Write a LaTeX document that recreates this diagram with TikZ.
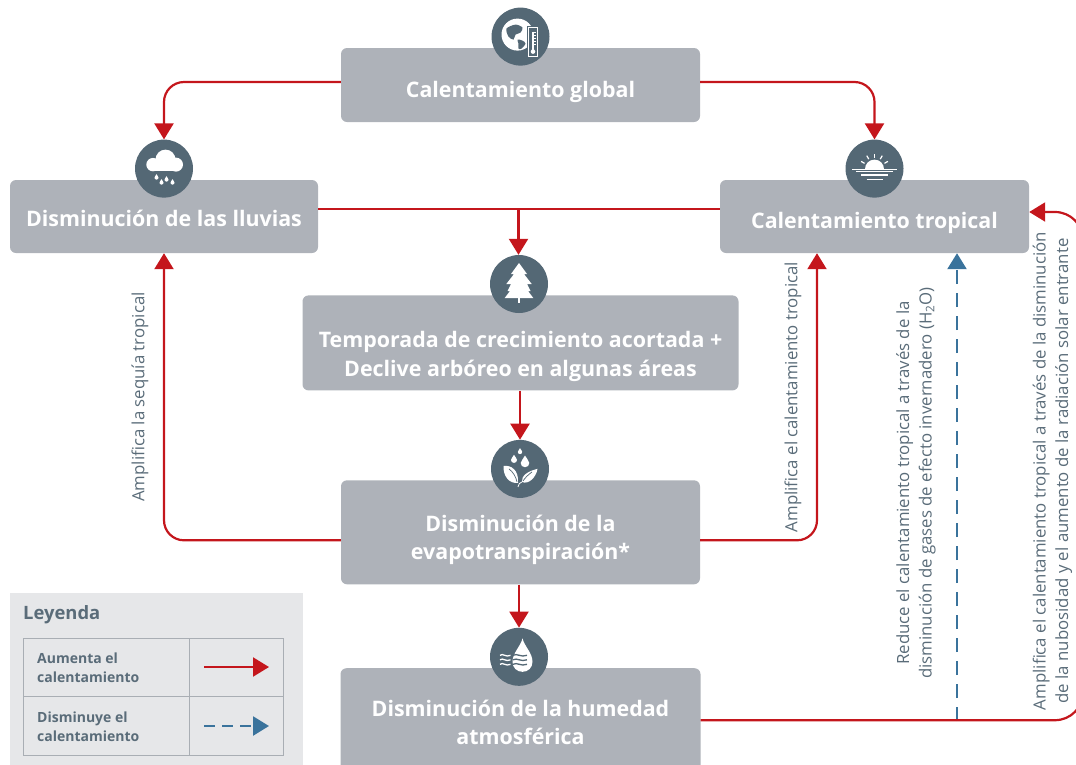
\documentclass[tikz,border=0pt]{standalone}
\usepackage{fontspec}
\setmainfont{Open Sans}
\usetikzlibrary{positioning, arrows.meta}

\definecolor{boxgray}{HTML}{AEB2B9}
\definecolor{badgeblue}{HTML}{546875}
\definecolor{linered}{HTML}{C4161C}
\definecolor{lineblue}{HTML}{3A739C}
\definecolor{legendgray}{HTML}{E6E7E9}
\definecolor{gridgray}{HTML}{A9AEB4}
\definecolor{notegray}{HTML}{5A6C79}

\tikzstyle{effect} = [rectangle, rounded corners=6pt, fill=boxgray, text=white, inner sep=0pt, align=center, font=\fontsize{21.4}{28.5}\selectfont\bfseries]
\tikzstyle{badge} = [circle, fill=badgeblue, minimum size=58pt, inner sep=0pt]
\tikzstyle{arrow} = [line width=2.2pt, linered, -{Triangle[length=16pt,width=19pt]}]
\tikzstyle{arrowdown} = [line width=2.4pt, lineblue, dash pattern=on 14pt off 9pt, -{Triangle[length=16pt,width=19pt]}]
\tikzstyle{note} = [rotate=90, text=notegray, align=center, inner sep=0pt, font=\fontsize{16.8}{22.5}\selectfont]
\tikzstyle{cell} = [rectangle, draw=gridgray, line width=1pt, inner sep=0pt, outer sep=0pt]
\tikzstyle{celltext} = [text=notegray, align=left, anchor=west, inner sep=0pt, font=\fontsize{14}{19}\selectfont\bfseries]

\newcommand{\boxlabel}[2]{\raisebox{\dimexpr#1-7.7pt\relax}[0pt][0pt]{\begin{tabular}{@{}c@{}}#2\end{tabular}}}

\tikzset{
    dropglyph/.pic={
        \fill (0,-1.7) .. controls (.3,-.9) and (1,-.6) .. (1,0) .. controls (1,.6) and (.6,1) .. (0,1)
            .. controls (-.6,1) and (-1,.6) .. (-1,0) .. controls (-1,-.6) and (-.3,-.9) .. cycle;
    },
    globeglyph/.pic={
        \fill[white] (-3,-2) circle[radius=16pt];
        \fill[badgeblue] plot[smooth cycle] coordinates {(-14,-8) (-5,-12) (2,-9) (0,-4) (-5,-2) (-7,3) (-12,0)};
        \fill[badgeblue] plot[smooth cycle] coordinates {(-3,3) (2,4) (5,7) (1,12) (-2,12) (-2,7)};
        \fill[badgeblue] (6,-11) rectangle (19,21);
        \draw[white, line width=1pt] (8,-9) rectangle (17,19.5);
        \draw[white, line width=1.4pt] (12.5,-5) -- (12.5,13);
        \fill[white] (12.5,15) circle[radius=2.3pt];
        \foreach \y in {-4,-1,2,5,8}
            \draw[white, line width=.6pt] (13,\y) -- (15.5,\y);
    },
    rainglyph/.pic={
        \fill[white] (-11,-4) circle[radius=6.7pt] (1.5,-9) circle[radius=10pt] (12,-4) circle[radius=7pt];
        \fill[white] (-11,-4) rectangle (12,2.7);
        \pic[white, scale=2] at (-7.5,9) {dropglyph};
        \pic[white, scale=2] at (-2.5,14) {dropglyph};
        \pic[white, scale=2] at (2.5,11) {dropglyph};
        \pic[white, scale=2] at (8.5,14) {dropglyph};
    },
    sunglyph/.pic={
        \fill[white] (-9.5,.5) arc[start angle=180, end angle=0, radius=9.5pt] -- cycle;
        \foreach \a in {30,60,90,120,150}
            \draw[white, line width=1.2pt] ({11.5*cos(\a)},{.5-11.5*sin(\a)}) -- ({15.5*cos(\a)},{.5-15.5*sin(\a)});
        \foreach \w/\y in {22.5/.5, 18.5/3.2, 13.5/6.3, 8/10.5}
            \draw[white, line width=1.2pt] (-\w,\y) -- (\w,\y);
    },
    treeglyph/.pic={
        \fill[white] (0,-21) -- (8,-10) -- (5,-10) -- (12.7,0) -- (8,0) -- (11.5,7) -- (9,7) -- (14.3,14) -- (-14.3,14) -- (-9,7) -- (-11.5,7) -- (-8,0) -- (-12.7,0) -- (-5,-10) -- (-8,-10) -- cycle;
        \fill[white] (-1.2,14) rectangle (1.2,19);
    },
    leafglyph/.pic={
        \fill[white] (-16.5,-3) .. controls (-9,-4) and (-1,1) .. (-2,14) .. controls (-11,15) and (-17,7) .. cycle;
        \fill[white] (17.5,0) .. controls (16,9) and (8,16) .. (2,13) .. controls (1,7) and (8,2) .. cycle;
        \draw[white, line width=.8pt] (-2,18) .. controls (-2,15) and (0,14) .. (2,13);
        \draw[badgeblue, line width=.7pt] (-11,0) .. controls (-7,3) and (-4,8) .. (-3,13);
        \draw[badgeblue, line width=.7pt] (12,3) .. controls (8,6) and (5,9) .. (3,12);
        \pic[white, scale=2.2] at (0,-17) {dropglyph};
        \pic[white, scale=3] at (-6,-9) {dropglyph};
        \pic[white, scale=4.3] at (5,-6) {dropglyph};
    },
    waterglyph/.pic={
        \fill[white] (3.5,-18.5) .. controls (5,-11) and (13.5,-4) .. (13.5,5) .. controls (13.5,11) and (9,15) .. (3.5,15)
            .. controls (-2,15) and (-6.5,11) .. (-6.5,5) .. controls (-6.5,-4) and (2,-11) .. cycle;
        \foreach \y in {-1.5,3,7.5} {
            \draw[white, line width=1.3pt] (-19,\y) .. controls (-16,{\y-2.5}) and (-13,{\y+2.5}) .. (-8.5,\y);
            \draw[badgeblue, line width=1.3pt] (-6,\y) .. controls (-2,{\y-2.5}) and (2,{\y+2.5}) .. (8,\y);
        }
    }
}

\begin{document}
\begin{tikzpicture}[x=1pt, y=-1pt]
    \clip (0,0) rectangle (1076,764);

    % legend
    \fill[legendgray] (10,593) rectangle (303,770);
    \node[text=notegray, anchor=west, inner sep=0pt, font=\fontsize{18.4}{20}\selectfont\bfseries] (legendtitle) at (23,615) {Leyenda};
    \node[cell, minimum width=166pt, minimum height=58pt, anchor=north west] (upname)   at (23,638)            {};
    \node[cell, minimum width=94pt,  minimum height=58pt, anchor=north west] (upline)   at (upname.north east) {};
    \node[cell, minimum width=166pt, minimum height=59pt, anchor=north west] (downname) at (upname.south west) {};
    \node[cell, minimum width=94pt,  minimum height=59pt, anchor=north west] (downline) at (upname.south east) {};
    \node[celltext] (uptext)   at (37,668) {Aumenta el\\calentamiento};
    \node[celltext] (downtext) at (37,727) {Disminuye el\\calentamiento};
    \coordinate (upstart)   at (204,667);
    \coordinate (upend)     at (269,667);
    \coordinate (downstart) at (204,726);
    \coordinate (downend)   at (269,726);

    % boxes
    \node[effect, minimum width=359pt, minimum height=74pt] (warming) at (520.5,85) {\boxlabel{-4pt}{Calentamiento global}};
    \node[effect, minimum width=308pt, minimum height=73pt] (rain)    at (164,216.5) {\boxlabel{-1.5pt}{Disminución de las lluvias}};
    \node[effect, minimum width=309pt, minimum height=73pt] (tropics) at (874.5,216.5) {\boxlabel{-3.5pt}{Calentamiento tropical}};
    \node[effect, minimum width=436pt, minimum height=95pt, below=173pt of warming] (season) {\boxlabel{-11pt}{Temporada de crecimiento acortada +\\Declive arbóreo en algunas áreas}};
    \node[effect, minimum width=359pt, minimum height=104pt, below=89.5pt of season] (evapo) {\boxlabel{-5pt}{Disminución de la\\evapotranspiración*}};
    \node[effect, minimum width=360pt, minimum height=112pt, below=83.5pt of evapo] (humidity) {\boxlabel{2pt}{Disminución de la humedad\\atmosférica}};

    % badges
    \node[badge, above=-18pt of warming]  (globeicon) {};
    \node[badge, above=-18pt of rain]     (rainicon)  {};
    \node[badge, above=-18pt of tropics]  (sunicon)   {};
    \node[badge, above=-18pt of season, xshift=-1.5pt]   (treeicon)  {};
    \node[badge, above=-18pt of evapo, xshift=-.5pt]     (leaficon)  {};
    \node[badge, above=-18pt of humidity, xshift=-1.5pt] (watericon) {};
    \pic at (globeicon) {globeglyph};
    \pic at (rainicon)  {rainglyph};
    \pic at (sunicon)   {sunglyph};
    \pic at (treeicon)  {treeglyph};
    \pic at (leaficon)  {leafglyph};
    \pic at (watericon) {waterglyph};

    % notes
    \node[note] (droughtnote) at (140,397)   {Amplifica la sequía tropical};
    \node[note] (tropicnote)  at (793,397)   {Amplifica el calentamiento tropical};
    \node[note] (greennote)   at (916,483)   {Reduce el calentamiento tropical a través de la\\disminución de gases de efecto invernadero (H\textsubscript{2}O)};
    \node[note] (cloudnote)   at (1052.5,471) {Amplifica el calentamiento tropical a través de la disminución\\de la nubosidad y el aumento de la radiación solar entrante};

    % connectors
    \coordinate (split)     at (518.5,209);
    \coordinate (bendtop)   at (1083,212);
    \coordinate (bluestart) at (957,721);

    \draw[arrowdown] (bluestart) -- ([xshift=82.5pt]tropics.south);
    \draw[arrow, rounded corners=20pt] ([yshift=3pt]warming.west) -| (rainicon.north);
    \draw[arrow, rounded corners=20pt] ([yshift=3pt]warming.east) -| (sunicon.north);
    \draw[line width=2.2pt, linered] (split -| rain.east) -- (split -| tropics.west);
    \draw[arrow] (split) -- (split |- treeicon.north);
    \draw[arrow] (leaficon.north |- season.south) -- (leaficon.north);
    \draw[arrow] (watericon.north |- evapo.south) -- (watericon.north);
    \draw[arrow, rounded corners=20pt] ([yshift=-8pt]evapo.west) -| (rain.south);
    \draw[arrow, rounded corners=20pt] ([yshift=-8pt]evapo.east) -| ([xshift=-57.5pt]tropics.south);
    \draw[arrow, rounded corners=28pt] ([yshift=4pt]humidity.east) -| (bendtop) -- ([yshift=4.5pt]tropics.east);

    \draw[arrow] (upstart) -- (upend);
    \draw[arrowdown, dash pattern=on 11pt off 7pt] (downstart) -- (downend);
\end{tikzpicture}
\end{document}
